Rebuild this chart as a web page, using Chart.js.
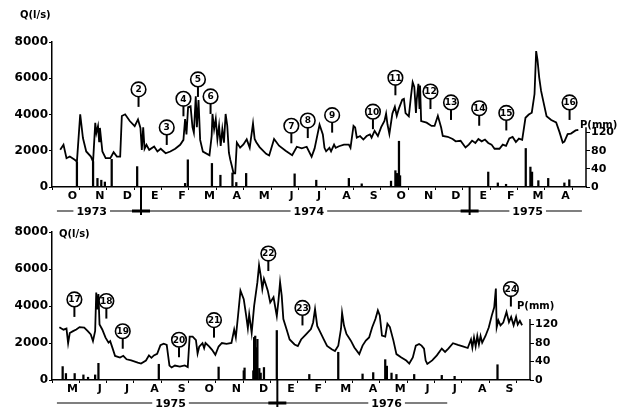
<!DOCTYPE html>
<html>
<head>
<meta charset="utf-8">
<script src="https://cdn.jsdelivr.net/npm/chart.js@4.4.0/dist/chart.umd.min.js"></script>
<style>
  html, body { margin: 0; padding: 0; background: #fff; }
  #wrap { position: relative; width: 617px; height: 407px; }
  #chart-top { position: absolute; left: 0; top: 0; }
  #chart-bottom { position: absolute; left: 0; top: 215px; }
</style>
</head>
<body>
<div id="wrap">
  <canvas id="chart-top" width="617" height="215"></canvas>
  <canvas id="chart-bottom" width="617" height="192"></canvas>
</div>
<script>
// Hydrograph Q (l/s) + rainfall P (mm), Oct 1973 - Sep 1976
// x values are months counted from the first month of each panel

const monthsTop = ['O','N','D','E','F','M','A','M','J','J','A','S','O','N','D','E','F','M','A'];
const monthsBottom = ['M','J','J','A','S','O','N','D','E','F','M','A','M','J','J','A','S'];
const flowTicks = [0, 2000, 4000, 6000, 8000];
const rainTicks = [0, 40, 80, 120];

// [month, Q]
const flowTop = [
  [0.05,2050],[0.17,2330],[0.28,1590],[0.40,1680],[0.58,1500],[0.66,1400],[0.78,4010],[0.88,2700],
  [1.00,1960],[1.17,1680],[1.25,1400],[1.33,3540],[1.37,2980],[1.43,3360],[1.47,2520],[1.50,3260],
  [1.59,1960],[1.71,1590],[1.88,1590],[2.00,1920],[2.12,1680],[2.24,1680],[2.30,3920],[2.42,4010],
  [2.59,3640],[2.77,3360],[2.89,3730],[2.98,3260],[3.03,2050],[3.08,3300],[3.13,2110],[3.20,2330],
  [3.30,2050],[3.48,2240],[3.60,1960],[3.72,2110],[3.90,1860],[4.07,1960],[4.25,2110],[4.43,2330],
  [4.55,2600],[4.61,3750],[4.66,2900],[4.72,4400],[4.81,4450],[4.88,3300],[4.93,3000],[5.00,5000],
  [5.04,3300],[5.10,4800],[5.16,2600],[5.26,1950],[5.50,1750],[5.58,2810],[5.61,4030],[5.67,3190],
  [5.73,3750],[5.79,2630],[5.85,3380],[5.91,2260],[5.97,3190],[6.03,2450],[6.09,4030],[6.15,3380],
  [6.21,1890],[6.26,1510],[6.32,1140],[6.38,760],[6.44,760],[6.50,2450],[6.62,2170],[6.74,2350],
  [6.86,2630],[6.97,2170],[7.09,3500],[7.15,2650],[7.21,2470],[7.33,2200],[7.57,1830],[7.68,1740],
  [7.86,2650],[8.04,2280],[8.28,2000],[8.52,1750],[8.69,2220],[8.87,2130],[9.05,2220],[9.23,1670],
  [9.34,2130],[9.52,3440],[9.64,2900],[9.70,2160],[9.76,1970],[9.88,2160],[9.94,1970],[10.05,2340],
  [10.11,2160],[10.23,2250],[10.41,2340],[10.59,2340],[10.65,2160],[10.76,3370],[10.82,3280],[10.88,2720],
  [11.00,2810],[11.12,2620],[11.24,2810],[11.36,2900],[11.42,2720],[11.53,3100],[11.65,2810],[11.77,3300],
  [11.89,3650],[11.95,4050],[12.00,3460],[12.07,2930],[12.18,4050],[12.27,4430],[12.34,3930],[12.42,4340],
  [12.54,4820],[12.60,4860],[12.66,4080],[12.78,3900],[12.86,5030],[12.92,5780],[12.98,5520],[13.04,4080],
  [13.07,4830],[13.13,5690],[13.17,4300],[13.19,5600],[13.23,3640],[13.43,3550],[13.61,3370],[13.72,3370],
  [13.84,3930],[13.96,3280],[14.02,2820],[14.20,2770],[14.38,2650],[14.49,2520],[14.67,2550],[14.85,2180],
  [14.97,2340],[15.09,2560],[15.21,2430],[15.32,2650],[15.44,2520],[15.56,2620],[15.68,2430],[15.80,2340],
  [15.91,2110],[16.09,2110],[16.21,2340],[16.33,2270],[16.45,2680],[16.57,2760],[16.69,2480],[16.80,2670],
  [16.92,2600],[17.04,3820],[17.16,4000],[17.27,4100],[17.37,5130],[17.43,7500],[17.48,7000],[17.54,6050],
  [17.61,5300],[17.69,4740],[17.81,3900],[17.98,3700],[18.16,3560],[18.28,3040],[18.40,2450],[18.46,2500],
  [18.58,2920],[18.70,2950],[18.87,3120],[18.97,3150]
];

// [month, P]
const rainTop = [
  [0.66,55],[1.25,56],[1.41,19],[1.55,15],[1.68,11],[1.93,61],[2.86,45],[4.61,8],[4.71,60],
  [5.59,52],[5.90,26],[6.34,31],[6.48,10],[6.84,30],[8.61,29],[9.40,15],[10.59,19],[11.06,7],
  [12.13,13],[12.29,36],[12.35,30],[12.42,101],[12.46,25],[15.68,33],[16.03,9],[16.33,6],
  [17.05,85],[17.22,44],[17.28,33],[17.51,14],[17.87,19],[18.46,9],[18.64,16]
];

const flowBottom = [
  [0.02,2850],[0.17,2720],[0.28,2780],[0.34,1990],[0.40,2540],[0.52,2640],[0.64,2730],[0.76,2860],
  [0.93,2830],[1.06,2640],[1.17,2460],[1.25,2100],[1.33,2650],[1.37,4730],[1.41,3820],[1.45,4650],
  [1.49,3000],[1.59,2730],[1.71,2290],[1.82,2020],[1.88,2100],[1.96,1750],[2.06,1300],[2.24,1210],
  [2.36,1310],[2.48,1120],[2.65,1060],[2.89,940],[3.01,890],[3.19,1050],[3.30,1330],[3.39,1200],
  [3.48,1330],[3.60,1420],[3.72,1880],[3.84,1960],[3.95,1900],[4.05,780],[4.13,680],[4.25,780],
  [4.43,720],[4.61,790],[4.72,700],[4.79,2340],[4.90,2340],[5.02,2160],[5.08,1430],[5.14,1800],
  [5.26,1990],[5.32,1720],[5.37,2000],[5.50,1820],[5.61,1630],[5.73,1360],[5.85,1810],[5.97,2000],
  [6.14,1950],[6.32,2000],[6.42,2730],[6.48,2300],[6.56,3460],[6.65,4830],[6.77,4370],[6.86,3460],
  [6.92,2800],[6.97,3550],[7.06,2550],[7.15,4010],[7.27,5290],[7.33,6200],[7.39,5650],[7.45,4920],
  [7.51,5470],[7.57,5200],[7.65,4830],[7.74,4190],[7.86,4470],[7.98,3460],[8.04,4280],[8.10,5290],
  [8.16,4560],[8.22,3290],[8.34,2730],[8.45,2190],[8.63,1920],[8.75,1830],[8.87,2190],[9.05,2470],
  [9.23,2750],[9.31,3110],[9.38,3830],[9.46,2920],[9.58,2560],[9.70,2200],[9.82,1840],[9.99,1660],
  [10.11,1570],[10.23,1850],[10.33,2760],[10.37,3630],[10.44,2940],[10.53,2490],[10.65,2220],[10.70,2100],
  [10.82,1760],[11.00,1400],[11.12,1860],[11.24,2130],[11.36,2300],[11.47,2840],[11.59,3300],[11.68,3760],
  [11.75,3490],[11.83,2400],[11.95,2350],[12.03,3040],[12.12,2860],[12.25,2130],[12.36,1400],[12.54,1220],
  [12.72,1050],[12.83,890],[12.96,1220],[13.07,1860],[13.19,1950],[13.28,1860],[13.37,1690],[13.43,1050],
  [13.49,870],[13.67,1060],[13.84,1330],[14.02,1700],[14.14,1520],[14.26,1700],[14.43,1990],[14.61,1900],
  [14.79,1820],[14.97,1730],[15.09,2190],[15.14,1750],[15.20,2300],[15.26,1820],[15.32,2380],[15.38,1920],
  [15.44,2380],[15.50,2020],[15.62,2380],[15.74,2840],[15.85,3480],[15.94,3930],[16.00,4940],[16.03,2850],
  [16.09,3220],[16.17,2950],[16.27,3100],[16.39,3680],[16.48,3130],[16.56,3410],[16.65,2960],[16.74,3410],
  [16.80,3000],[16.88,3200],[16.96,2960]
];

const rainBottom = [
  [0.14,29],[0.26,14],[0.58,14],[0.90,11],[1.07,6],[1.33,11],[1.45,36],[3.66,34],[5.85,28],
  [6.77,20],[6.80,26],[7.12,20],[7.15,92],[7.19,95],[7.23,70],[7.27,88],[7.34,25],[7.39,15],
  [7.51,27],[7.98,107],[9.17,12],[10.23,60],[11.12,13],[11.51,16],[11.95,44],[12.01,30],
  [12.18,15],[12.36,12],[13.01,12],[14.02,10],[14.49,8],[16.06,33]
];

// circled sample numbers: [number, month, Q at the arrow tip]
const marksTop = [
  [2,2.91,4420],[3,3.94,2320],[4,4.55,3900],[5,5.08,4970],[6,5.54,4030],[7,8.49,2410],[8,9.09,2700],
  [9,9.98,3000],[10,11.47,3190],[11,12.29,5060],[12,13.57,4300],[13,14.32,3700],[14,15.35,3380],
  [15,16.34,3120],[16,18.65,3700]
];
const marksBottom = [
  [17,0.57,3410],[18,1.74,3320],[19,2.34,1690],[20,4.40,1230],[21,5.68,2290],[22,7.67,5890],
  [23,8.92,2950],[24,16.55,3970]
];

// year strip under each panel
const yearsTop = [['1973',1.2],['1974',9.13],['1975',17.12]];
const yearsBottom = [['1975',4.09],['1976',12.0]];

const FONT = 'DejaVu Sans';

function isMonthEdge(ctx) {
  return ctx && ctx.tick && Number.isInteger(ctx.tick.value);
}

function decor(o) {
  return {
    id: 'decor',
    afterDraw(chart) {
      const c = chart.ctx;
      const xs = chart.scales.x, ys = chart.scales.y, ps = chart.scales.p;
      const a = chart.chartArea;
      c.save();
      c.strokeStyle = '#000';
      c.fillStyle = '#000';

      // rain axis line only reaches a bit above 120
      c.lineWidth = 1.5;
      c.beginPath();
      c.moveTo(a.right, ps.getPixelForValue(0));
      c.lineTo(a.right, ps.getPixelForValue(132));
      c.stroke();

      // year line
      c.lineWidth = 1.2;
      c.beginPath();
      c.moveTo(xs.getPixelForValue(o.yearSpan[0]), o.yearY);
      c.lineTo(xs.getPixelForValue(o.yearSpan[1]), o.yearY);
      c.stroke();
      c.font = 'bold 11px ' + FONT;
      c.textAlign = 'center';
      c.textBaseline = 'middle';
      o.years.forEach(y => {
        const x = xs.getPixelForValue(y[1]);
        const w = c.measureText(y[0]).width;
        c.fillStyle = '#fff';
        c.fillRect(x - w / 2 - 3, o.yearY - 6, w + 6, 12);
        c.fillStyle = '#000';
        c.fillText(y[0], x, o.yearY + 1);
      });
      // year change
      o.dividers.forEach(m => {
        const x = xs.getPixelForValue(m);
        c.lineWidth = 2;
        c.beginPath();
        c.moveTo(x, a.bottom);
        c.lineTo(x, o.yearY + 5);
        c.stroke();
        c.fillRect(x - 9, o.yearY - 1.5, 18, 3);
      });

      // axis titles
      c.font = 'bold 10px ' + FONT;
      c.textAlign = 'left';
      c.fillText('Q(l/s)', o.qLabel[0], o.qLabel[1]);
      c.fillText('P(mm)', o.pLabel[0], o.pLabel[1]);

      // circled numbers with arrows
      o.marks.forEach(mk => {
        const x = xs.getPixelForValue(mk[1]);
        const y = ys.getPixelForValue(mk[2]);
        c.lineWidth = 2;
        c.beginPath();
        c.moveTo(x, y - 10);
        c.lineTo(x, y);
        c.stroke();
        c.lineWidth = 1.6;
        c.beginPath();
        c.arc(x, y - 17.5, 7.3, 0, Math.PI * 2);
        c.fillStyle = '#fff';
        c.fill();
        c.stroke();
        c.fillStyle = '#000';
        c.font = 'bold 9px ' + FONT;
        c.textAlign = 'center';
        c.fillText(String(mk[0]), x, y - 17);
      });
      c.restore();
    }
  };
}

function buildChart(id, o) {
  const n = o.months.length;
  return new Chart(document.getElementById(id), {
    type: 'line',
    data: {
      datasets: [{
        type: 'line',
        data: o.flow.map(p => ({x: p[0], y: p[1]})),
        yAxisID: 'y',
        borderColor: '#000',
        borderWidth: 1.8,
        pointRadius: 0,
        tension: 0,
        order: 0
      }, {
        type: 'bar',
        data: o.rain.map(p => ({x: p[0], y: p[1]})),
        yAxisID: 'p',
        backgroundColor: '#000',
        barThickness: 1.6,
        order: 1
      }]
    },
    options: {
      responsive: false,
      animation: false,
      layout: {padding: {top: o.padTop, left: 0, right: 0, bottom: 0}},
      plugins: {legend: {display: false}, tooltip: {enabled: false}},
      scales: {
        x: {
          type: 'linear', min: 0, max: n,
          afterBuildTicks: s => {
            const t = [];
            for (let i = 0; i <= 2 * n; i++) t.push({value: i / 2});
            s.ticks = t;
          },
          afterFit: s => { s.height = o.xAxisH; },
          ticks: {
            autoSkip: false, maxRotation: 0, padding: 0, color: '#000',
            font: {family: FONT, size: 11, weight: 'bold'},
            callback: v => Number.isInteger(v) ? '' : o.months[Math.floor(v)]
          },
          grid: {
            drawOnChartArea: false, tickLength: 3,
            color: ctx => isMonthEdge(ctx) ? '#000' : 'rgba(0,0,0,0)'
          },
          border: {color: '#000', width: 1.5}
        },
        y: {
          position: 'left', min: 0, max: 8000,
          afterBuildTicks: s => { s.ticks = flowTicks.map(v => ({value: v})); },
          afterFit: s => { s.width = 52; },
          ticks: {
            padding: 1, color: '#000', font: {family: FONT, size: 12, weight: 'bold'},
            callback: v => String(v)
          },
          grid: {drawOnChartArea: false, tickLength: 3, color: '#000'},
          border: {color: '#000', width: 1.5}
        },
        p: {
          position: 'right', min: 0, max: 320,
          afterBuildTicks: s => { s.ticks = rainTicks.map(v => ({value: v})); },
          afterFit: s => { s.width = o.rightW; },
          ticks: {
            padding: 1, color: '#000', font: {family: FONT, size: 11, weight: 'bold'},
            callback: v => String(v)
          },
          grid: {drawOnChartArea: false, tickLength: 4, color: '#000'},
          border: {display: false}
        }
      }
    },
    plugins: [decor(o)]
  });
}

const chartTop = buildChart('chart-top', {
  months: monthsTop, flow: flowTop, rain: rainTop, marks: marksTop,
  years: yearsTop, yearSpan: [-0.07, 19.1], dividers: [3, 15], yearY: 211,
  padTop: 42, xAxisH: 28, rightW: 31,
  qLabel: [20, 15], pLabel: [580, 125]
});

const chartBottom = buildChart('chart-bottom', {
  months: monthsBottom, flow: flowBottom, rain: rainBottom, marks: marksBottom,
  years: yearsBottom, yearSpan: [-0.07, 14.22], dividers: [8], yearY: 188,
  padTop: 17, xAxisH: 27, rightW: 87,
  qLabel: [59, 19], pLabel: [517, 91]
});
</script>
</body>
</html>
